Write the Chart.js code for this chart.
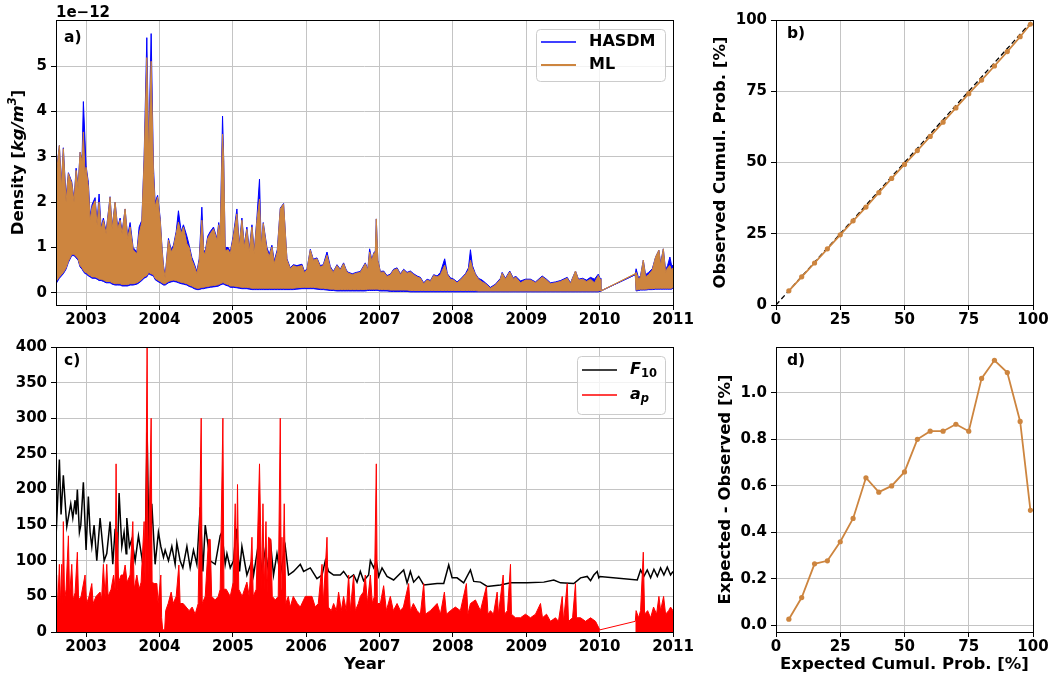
<!DOCTYPE html>
<html>
<head>
<meta charset="utf-8">
<script src="https://cdn.jsdelivr.net/npm/chart.js@4.4.0/dist/chart.umd.min.js"></script>
<style>
  html, body { margin: 0; padding: 0; background: #fff; }
  #wrap { position: relative; width: 1053px; height: 678px; overflow: hidden; background: #fff; }
  canvas { position: absolute; }
</style>
</head>
<body>
<div id="wrap">
  <canvas id="ca" width="700" height="330" style="left:0;top:0;width:700px;height:330px"></canvas>
  <canvas id="cb" width="353" height="330" style="left:700px;top:0;width:353px;height:330px"></canvas>
  <canvas id="cc" width="700" height="348" style="left:0;top:330px;width:700px;height:348px"></canvas>
  <canvas id="cd" width="353" height="348" style="left:700px;top:330px;width:353px;height:348px"></canvas>
</div>
<script>
// ---- a) 密度 (單位 1e-12 kg/m³)：上下包絡，十進位年 ----
const DENS_T = [
  2002.591, 2002.636, 2002.663, 2002.690, 2002.727, 2002.759, 2002.805, 2002.836, 2002.864, 2002.891,
  2002.918, 2002.945, 2002.963, 2002.986, 2003.000, 2003.031, 2003.055, 2003.082, 2003.123, 2003.150,
  2003.177, 2003.205, 2003.236, 2003.273, 2003.327, 2003.355, 2003.396, 2003.430, 2003.464, 2003.491,
  2003.532, 2003.566, 2003.600, 2003.641, 2003.692, 2003.723, 2003.760, 2003.791, 2003.828, 2003.853,
  2003.887, 2003.918, 2003.941, 2003.975, 2004.010, 2004.037, 2004.055, 2004.078, 2004.123, 2004.160,
  2004.191, 2004.228, 2004.259, 2004.296, 2004.327, 2004.374, 2004.405, 2004.442, 2004.473, 2004.510,
  2004.542, 2004.578, 2004.603, 2004.623, 2004.658, 2004.692, 2004.737, 2004.783, 2004.808, 2004.828,
  2004.860, 2004.876, 2004.896, 2004.937, 2004.965, 2005.005, 2005.056, 2005.087, 2005.124, 2005.156,
  2005.192, 2005.224, 2005.261, 2005.292, 2005.326, 2005.364, 2005.387, 2005.415, 2005.465, 2005.497,
  2005.533, 2005.565, 2005.606, 2005.647, 2005.692, 2005.738, 2005.783, 2005.824, 2005.874, 2005.943,
  2005.974, 2006.011, 2006.056, 2006.097, 2006.147, 2006.192, 2006.233, 2006.284, 2006.329, 2006.370,
  2006.420, 2006.465, 2006.510, 2006.547, 2006.578, 2006.629, 2006.683, 2006.738, 2006.806, 2006.840,
  2006.865, 2006.895, 2006.920, 2006.943, 2006.956, 2006.977, 2007.011, 2007.056, 2007.102, 2007.147,
  2007.192, 2007.239, 2007.284, 2007.329, 2007.375, 2007.420, 2007.465, 2007.512, 2007.557, 2007.602,
  2007.648, 2007.693, 2007.738, 2007.785, 2007.830, 2007.888, 2007.925, 2007.966, 2008.011, 2008.057,
  2008.102, 2008.171, 2008.212, 2008.239, 2008.266, 2008.307, 2008.348, 2008.398, 2008.443, 2008.512,
  2008.580, 2008.648, 2008.671, 2008.716, 2008.775, 2008.825, 2008.853, 2008.921, 2008.989, 2009.057,
  2009.126, 2009.217, 2009.276, 2009.330, 2009.398, 2009.467, 2009.558, 2009.603, 2009.671, 2009.712,
  2009.767, 2009.821, 2009.876, 2009.930, 2009.981, 2010.006, 2010.017, 2010.486, 2010.497, 2010.531,
  2010.558, 2010.595, 2010.626, 2010.667, 2010.718, 2010.763, 2010.808, 2010.831, 2010.868, 2010.899,
  2010.926, 2010.958, 2010.981, 2011.000,
];
const ML_HI = [
  2.55, 3.25, 2.30, 3.18, 2.00, 2.63, 2.41, 2.00, 2.70, 2.30,
  3.10, 2.90, 3.55, 2.60, 2.77, 2.33, 1.60, 1.89, 2.03, 1.50,
  2.00, 1.40, 1.60, 1.30, 2.11, 1.40, 2.00, 1.40, 1.60, 1.30,
  1.85, 1.20, 1.45, 0.95, 0.86, 1.30, 1.56, 2.90, 5.19, 3.00,
  5.11, 2.63, 1.90, 2.11, 1.60, 0.90, 0.55, 0.33, 1.16, 0.90,
  1.00, 1.30, 1.56, 1.30, 1.45, 1.08, 1.00, 0.72, 0.60, 0.42,
  0.70, 1.60, 0.90, 0.86, 1.20, 1.30, 1.41, 1.16, 1.50, 1.25,
  3.50, 2.90, 0.93, 0.95, 0.86, 1.20, 1.74, 1.00, 1.60, 1.00,
  1.40, 0.90, 1.45, 0.85, 1.55, 2.07, 1.00, 1.53, 0.94, 0.80,
  1.01, 0.64, 0.90, 1.85, 1.96, 0.72, 0.53, 0.60, 0.57, 0.60,
  0.45, 0.50, 0.94, 0.72, 0.75, 0.57, 0.60, 0.83, 0.55, 0.45,
  0.60, 0.50, 0.64, 0.48, 0.43, 0.40, 0.43, 0.45, 0.64, 0.50,
  0.90, 0.70, 0.86, 0.90, 1.63, 0.70, 0.45, 0.46, 0.36, 0.39,
  0.50, 0.53, 0.40, 0.50, 0.43, 0.46, 0.40, 0.35, 0.32, 0.20,
  0.28, 0.25, 0.38, 0.35, 0.40, 0.61, 0.40, 0.30, 0.28, 0.22,
  0.28, 0.40, 0.50, 0.72, 0.55, 0.40, 0.30, 0.24, 0.20, 0.10,
  0.17, 0.30, 0.43, 0.30, 0.46, 0.30, 0.35, 0.22, 0.28, 0.28,
  0.22, 0.35, 0.28, 0.20, 0.22, 0.25, 0.32, 0.20, 0.48, 0.28,
  0.30, 0.25, 0.30, 0.22, 0.38, 0.30, 0.04, 0.42, 0.45, 0.30,
  0.35, 0.72, 0.35, 0.40, 0.50, 0.79, 0.94, 0.60, 0.97, 0.45,
  0.55, 0.60, 0.50, 0.55,
];
const HASDM_HI = [
  2.60, 3.25, 2.40, 3.20, 2.10, 2.65, 2.45, 2.05, 2.75, 2.35,
  3.10, 2.95, 4.22, 3.35, 2.80, 2.44, 1.70, 1.95, 2.10, 1.55,
  2.18, 1.45, 1.65, 1.35, 2.12, 1.45, 2.00, 1.45, 1.65, 1.35,
  1.85, 1.25, 1.55, 1.00, 0.90, 1.45, 1.60, 3.00, 5.63, 3.10,
  5.72, 2.80, 2.00, 2.15, 1.65, 0.95, 0.60, 0.36, 1.20, 0.95,
  1.05, 1.35, 1.81, 1.35, 1.50, 1.25, 1.05, 0.78, 0.65, 0.47,
  0.75, 1.89, 0.95, 0.90, 1.25, 1.35, 1.45, 1.20, 1.55, 1.30,
  3.90, 2.95, 1.00, 1.00, 0.90, 1.25, 1.85, 1.05, 1.65, 1.05,
  1.45, 0.95, 1.50, 0.90, 1.60, 2.51, 1.05, 1.55, 1.00, 0.85,
  1.05, 0.70, 0.95, 1.87, 1.97, 0.75, 0.55, 0.62, 0.60, 0.63,
  0.48, 0.52, 0.96, 0.74, 0.77, 0.60, 0.62, 0.90, 0.58, 0.47,
  0.62, 0.52, 0.66, 0.50, 0.45, 0.42, 0.45, 0.47, 0.66, 0.52,
  0.97, 0.72, 0.88, 0.92, 1.63, 0.72, 0.47, 0.48, 0.38, 0.41,
  0.52, 0.55, 0.42, 0.52, 0.45, 0.48, 0.42, 0.37, 0.34, 0.22,
  0.30, 0.27, 0.40, 0.37, 0.45, 0.75, 0.42, 0.33, 0.30, 0.24,
  0.30, 0.42, 0.55, 0.95, 0.60, 0.42, 0.32, 0.28, 0.22, 0.12,
  0.19, 0.32, 0.45, 0.32, 0.48, 0.32, 0.37, 0.26, 0.30, 0.30,
  0.24, 0.37, 0.30, 0.22, 0.24, 0.27, 0.34, 0.22, 0.48, 0.30,
  0.32, 0.28, 0.34, 0.30, 0.41, 0.32, 0.04, 0.40, 0.53, 0.32,
  0.38, 0.72, 0.40, 0.45, 0.53, 0.79, 0.94, 0.65, 0.97, 0.50,
  0.60, 0.79, 0.60, 0.60,
];
const ML_LO = [
  0.25, 0.35, 0.40, 0.45, 0.55, 0.70, 0.85, 0.85, 0.80, 0.75,
  0.60, 0.55, 0.50, 0.45, 0.45, 0.40, 0.38, 0.35, 0.35, 0.33,
  0.30, 0.30, 0.28, 0.25, 0.25, 0.22, 0.20, 0.20, 0.20, 0.18,
  0.18, 0.18, 0.20, 0.20, 0.22, 0.25, 0.30, 0.35, 0.38, 0.45,
  0.42, 0.40, 0.32, 0.28, 0.25, 0.22, 0.20, 0.20, 0.25, 0.27,
  0.28, 0.27, 0.25, 0.23, 0.22, 0.20, 0.17, 0.15, 0.12, 0.10,
  0.10, 0.12, 0.12, 0.13, 0.14, 0.15, 0.16, 0.17, 0.18, 0.20,
  0.22, 0.22, 0.20, 0.18, 0.15, 0.15, 0.14, 0.13, 0.12, 0.12,
  0.12, 0.11, 0.10, 0.10, 0.10, 0.10, 0.10, 0.10, 0.10, 0.10,
  0.10, 0.10, 0.10, 0.10, 0.10, 0.10, 0.10, 0.10, 0.11, 0.12,
  0.12, 0.12, 0.12, 0.12, 0.11, 0.10, 0.10, 0.09, 0.08, 0.08,
  0.07, 0.07, 0.07, 0.07, 0.07, 0.07, 0.07, 0.07, 0.07, 0.08,
  0.08, 0.08, 0.08, 0.08, 0.08, 0.08, 0.07, 0.07, 0.07, 0.06,
  0.06, 0.06, 0.06, 0.06, 0.06, 0.05, 0.05, 0.05, 0.05, 0.05,
  0.05, 0.05, 0.05, 0.05, 0.05, 0.05, 0.05, 0.05, 0.05, 0.05,
  0.05, 0.05, 0.05, 0.05, 0.05, 0.05, 0.04, 0.04, 0.04, 0.04,
  0.04, 0.04, 0.04, 0.04, 0.04, 0.04, 0.04, 0.04, 0.04, 0.04,
  0.04, 0.04, 0.04, 0.04, 0.04, 0.04, 0.04, 0.04, 0.04, 0.04,
  0.04, 0.04, 0.04, 0.04, 0.04, 0.05, 0.04, 0.42, 0.06, 0.07,
  0.08, 0.08, 0.08, 0.09, 0.09, 0.10, 0.10, 0.10, 0.10, 0.10,
  0.10, 0.10, 0.10, 0.12,
];
const HASDM_LO = [
  0.20, 0.32, 0.37, 0.42, 0.52, 0.67, 0.82, 0.82, 0.77, 0.72,
  0.57, 0.52, 0.47, 0.42, 0.42, 0.37, 0.35, 0.32, 0.32, 0.30,
  0.27, 0.27, 0.25, 0.22, 0.22, 0.19, 0.17, 0.17, 0.17, 0.15,
  0.15, 0.15, 0.17, 0.17, 0.19, 0.22, 0.27, 0.32, 0.35, 0.42,
  0.39, 0.37, 0.29, 0.25, 0.22, 0.19, 0.17, 0.17, 0.22, 0.24,
  0.25, 0.24, 0.22, 0.20, 0.19, 0.17, 0.14, 0.12, 0.09, 0.07,
  0.07, 0.09, 0.09, 0.10, 0.11, 0.12, 0.13, 0.14, 0.15, 0.17,
  0.19, 0.19, 0.17, 0.15, 0.12, 0.12, 0.11, 0.10, 0.09, 0.09,
  0.09, 0.08, 0.07, 0.07, 0.07, 0.07, 0.07, 0.07, 0.07, 0.07,
  0.07, 0.07, 0.07, 0.07, 0.07, 0.07, 0.07, 0.07, 0.08, 0.09,
  0.09, 0.09, 0.09, 0.09, 0.08, 0.07, 0.07, 0.06, 0.05, 0.05,
  0.04, 0.04, 0.04, 0.04, 0.04, 0.04, 0.04, 0.04, 0.04, 0.05,
  0.05, 0.05, 0.05, 0.05, 0.05, 0.05, 0.04, 0.04, 0.04, 0.03,
  0.03, 0.03, 0.03, 0.03, 0.03, 0.02, 0.02, 0.02, 0.02, 0.02,
  0.02, 0.02, 0.02, 0.02, 0.02, 0.02, 0.02, 0.02, 0.02, 0.02,
  0.02, 0.02, 0.02, 0.02, 0.02, 0.02, 0.02, 0.02, 0.02, 0.02,
  0.02, 0.02, 0.02, 0.02, 0.02, 0.02, 0.02, 0.02, 0.02, 0.02,
  0.02, 0.02, 0.02, 0.02, 0.02, 0.02, 0.02, 0.02, 0.02, 0.02,
  0.02, 0.02, 0.02, 0.02, 0.02, 0.03, 0.04, 0.40, 0.04, 0.05,
  0.06, 0.06, 0.06, 0.07, 0.07, 0.08, 0.08, 0.08, 0.08, 0.08,
  0.08, 0.08, 0.08, 0.10,
];

// ---- c) F10 與 ap ----
const F10_T = [
  2002.591, 2002.636, 2002.659, 2002.690, 2002.737, 2002.791, 2002.819, 2002.850, 2002.864, 2002.881,
  2002.909, 2002.928, 2002.963, 2003.000, 2003.031, 2003.055, 2003.078, 2003.109, 2003.146, 2003.191,
  2003.246, 2003.282, 2003.327, 2003.364, 2003.396, 2003.427, 2003.450, 2003.487, 2003.518, 2003.546,
  2003.555, 2003.591, 2003.623, 2003.669, 2003.714, 2003.782, 2003.809, 2003.832, 2003.859, 2003.873,
  2003.896, 2003.941, 2003.986, 2004.019, 2004.055, 2004.078, 2004.123, 2004.169, 2004.214, 2004.237,
  2004.282, 2004.319, 2004.374, 2004.419, 2004.464, 2004.510, 2004.555, 2004.592, 2004.624, 2004.692,
  2004.760, 2004.828, 2004.851, 2004.896, 2004.920, 2004.965, 2005.010, 2005.047, 2005.092, 2005.124,
  2005.192, 2005.261, 2005.283, 2005.351, 2005.397, 2005.442, 2005.487, 2005.510, 2005.555, 2005.602,
  2005.647, 2005.715, 2005.760, 2005.828, 2005.920, 2005.965, 2006.056, 2006.147, 2006.216, 2006.261,
  2006.306, 2006.374, 2006.465, 2006.510, 2006.579, 2006.647, 2006.693, 2006.738, 2006.783, 2006.851,
  2006.875, 2006.920, 2006.956, 2006.988, 2007.034, 2007.102, 2007.192, 2007.329, 2007.375, 2007.420,
  2007.465, 2007.534, 2007.602, 2007.693, 2007.785, 2007.875, 2007.943, 2007.989, 2008.057, 2008.147,
  2008.239, 2008.284, 2008.375, 2008.467, 2008.648, 2008.785, 2009.012, 2009.239, 2009.375, 2009.467,
  2009.648, 2009.740, 2009.831, 2009.876, 2009.921, 2009.967, 2009.989, 2010.003, 2010.513, 2010.558,
  2010.603, 2010.649, 2010.695, 2010.740, 2010.786, 2010.831, 2010.876, 2010.922, 2010.967, 2011.000,
];
const F10 = [
  134, 242, 165, 220, 148, 180, 160, 185, 165, 200,
  140, 150, 210, 115, 190, 140, 120, 150, 100, 160,
  100, 110, 155, 95, 145, 100, 195, 120, 140, 110,
  160, 120, 130, 100, 135, 90, 135, 280, 110, 90,
  180, 95, 140, 120, 105, 115, 100, 120, 95, 125,
  100, 90, 120, 90, 115, 95, 175, 85, 150, 100,
  95, 135, 140, 95, 110, 90, 100, 145, 85, 120,
  80, 100, 80, 125, 85, 115, 85, 130, 80, 110,
  80, 120, 80, 85, 95, 85, 90, 75, 80, 100,
  85, 80, 80, 85, 75, 80, 70, 85, 72, 80,
  100, 90, 100, 78, 90, 78, 73, 87, 69, 85,
  70, 78, 66, 67, 68, 68, 94, 76, 76, 69,
  87, 71, 70, 64, 66, 69, 69, 70, 73, 69,
  68, 76, 78, 72, 80, 85, 76, 78, 73, 87,
  78, 87, 76, 88, 78, 90, 80, 91, 80, 85,
];
const AP_T = [
  2002.591, 2002.598, 2002.611, 2002.636, 2002.652, 2002.668, 2002.679, 2002.690, 2002.707, 2002.727,
  2002.759, 2002.775, 2002.805, 2002.823, 2002.850, 2002.881, 2002.898, 2002.932, 2002.986, 2003.007,
  2003.041, 2003.078, 2003.096, 2003.136, 2003.191, 2003.211, 2003.236, 2003.259, 2003.282, 2003.300,
  2003.341, 2003.375, 2003.396, 2003.409, 2003.423, 2003.427, 2003.443, 2003.478, 2003.509, 2003.532,
  2003.559, 2003.600, 2003.637, 2003.655, 2003.692, 2003.723, 2003.750, 2003.791, 2003.805, 2003.832,
  2003.846, 2003.887, 2003.900, 2003.928, 2003.965, 2003.982, 2004.019, 2004.030, 2004.044, 2004.071,
  2004.085, 2004.119, 2004.160, 2004.187, 2004.228, 2004.265, 2004.282, 2004.323, 2004.364, 2004.405,
  2004.446, 2004.487, 2004.528, 2004.555, 2004.569, 2004.583, 2004.624, 2004.669, 2004.692, 2004.712,
  2004.760, 2004.801, 2004.828, 2004.865, 2004.879, 2004.910, 2004.965, 2005.006, 2005.033, 2005.047,
  2005.064, 2005.081, 2005.128, 2005.192, 2005.224, 2005.261, 2005.278, 2005.319, 2005.364, 2005.394,
  2005.411, 2005.428, 2005.452, 2005.469, 2005.487, 2005.520, 2005.538, 2005.579, 2005.619, 2005.647,
  2005.660, 2005.670, 2005.681, 2005.701, 2005.722, 2005.756, 2005.783, 2005.824, 2005.879, 2005.920,
  2005.988, 2006.079, 2006.124, 2006.165, 2006.216, 2006.233, 2006.284, 2006.302, 2006.343, 2006.374,
  2006.411, 2006.442, 2006.479, 2006.510, 2006.547, 2006.579, 2006.602, 2006.647, 2006.670, 2006.711,
  2006.738, 2006.779, 2006.806, 2006.834, 2006.875, 2006.902, 2006.929, 2006.956, 2006.970, 2007.011,
  2007.056, 2007.093, 2007.147, 2007.188, 2007.239, 2007.284, 2007.325, 2007.397, 2007.420, 2007.461,
  2007.512, 2007.557, 2007.602, 2007.625, 2007.693, 2007.785, 2007.830, 2007.884, 2007.912, 2007.966,
  2008.034, 2008.102, 2008.184, 2008.205, 2008.239, 2008.307, 2008.375, 2008.457, 2008.478, 2008.512,
  2008.553, 2008.603, 2008.621, 2008.685, 2008.703, 2008.744, 2008.785, 2008.798, 2008.853, 2008.921,
  2008.989, 2009.057, 2009.126, 2009.194, 2009.221, 2009.276, 2009.330, 2009.398, 2009.439, 2009.490,
  2009.508, 2009.558, 2009.576, 2009.631, 2009.671, 2009.685, 2009.740, 2009.808, 2009.876, 2009.944,
  2010.003, 2010.486, 2010.497, 2010.531, 2010.558, 2010.595, 2010.613, 2010.654, 2010.695, 2010.735,
  2010.776, 2010.808, 2010.831, 2010.872, 2010.899, 2010.940, 2010.967, 2011.000,
];
const AP = [
  40, 80, 30, 95, 40, 95, 40, 155, 45, 60,
  135, 50, 95, 45, 55, 112, 45, 50, 80, 40,
  50, 68, 40, 50, 56, 45, 95, 50, 95, 50,
  60, 80, 60, 236, 60, 140, 70, 80, 80, 94,
  70, 80, 155, 60, 80, 60, 70, 155, 70, 400,
  80, 300, 70, 68, 68, 40, 80, 20, 3, 3,
  30, 40, 56, 40, 50, 94, 40, 40, 35, 30,
  35, 25, 40, 207, 300, 40, 50, 130, 130, 50,
  45, 50, 60, 300, 60, 60, 50, 70, 180, 60,
  207, 60, 50, 70, 50, 133, 50, 60, 236, 60,
  180, 60, 155, 55, 133, 130, 50, 45, 50, 300,
  60, 133, 60, 180, 40, 50, 35, 50, 40, 35,
  50, 50, 35, 40, 95, 40, 133, 35, 30, 40,
  30, 56, 30, 50, 30, 80, 30, 80, 30, 40,
  50, 56, 80, 40, 80, 40, 50, 236, 40, 40,
  65, 30, 50, 30, 40, 30, 35, 68, 30, 40,
  30, 25, 68, 25, 30, 40, 25, 56, 25, 30,
  35, 30, 68, 25, 40, 45, 30, 64, 25, 30,
  25, 56, 25, 80, 25, 30, 95, 25, 20, 20,
  25, 20, 25, 40, 20, 25, 15, 20, 15, 50,
  15, 68, 15, 20, 68, 20, 20, 15, 20, 15,
  3, 15, 30, 20, 30, 112, 25, 30, 20, 35,
  25, 50, 30, 50, 25, 30, 35, 30,
];

// ---- b) d) 累積機率 [%] ----
const PROB_EXP = [5, 10, 15, 20, 25, 30, 35, 40, 45, 50, 55, 60, 65, 70, 75, 80, 85, 90, 95, 99];
const PROB_OBS = [4.973, 9.88, 14.735, 19.722, 24.64, 29.54, 34.365, 39.427, 44.4, 49.34,
  54.2, 59.165, 64.165, 69.135, 74.165, 78.938, 83.86, 88.913, 94.123, 98.505];
const PROB_DIFF = [0.027, 0.12, 0.265, 0.278, 0.36, 0.46, 0.635, 0.573, 0.60, 0.66,
  0.80, 0.835, 0.835, 0.865, 0.835, 1.062, 1.14, 1.087, 0.877, 0.495];
const IDEAL = [0, 100];

// ---- 刻度 ----
const YEAR_TICKS = [2003, 2004, 2005, 2006, 2007, 2008, 2009, 2010, 2011];
const DENS_TICKS = [0, 1, 2, 3, 4, 5];
const SOLAR_TICKS = [0, 50, 100, 150, 200, 250, 300, 350, 400];
const PCT_TICKS = [0, 25, 50, 75, 100];
const DIFF_TICKS = [0, 0.2, 0.4, 0.6, 0.8, 1.0];

const FONT = "'DejaVu Sans', sans-serif";
const GRID = '#c4c4c4';
const PERU = '#cd853f';

Chart.defaults.font.family = FONT;
Chart.defaults.font.size = 15;
Chart.defaults.font.weight = 'bold';
Chart.defaults.color = '#000';

const pts = (xs, ys) => xs.map((x, i) => ({ x, y: ys[i] }));

function axis(min, max, ticks, size, fmt, title) {
  return {
    type: 'linear', min, max,
    afterBuildTicks: (s) => { s.ticks = ticks.map((v) => ({ value: v })); },
    afterFit: (s) => { if (s.isHorizontal()) s.height = size; else s.width = size; },
    grid: { color: GRID, lineWidth: 1, tickLength: 5, tickColor: '#000', tickWidth: 1 },
    border: { display: false },
    ticks: {
      autoSkip: false, maxRotation: 0, callback: fmt, font: { size: 15, weight: 'bold' },
      padding: size < 60 && size !== 56 ? 1 : 4,
    },
    title: title
      ? { display: true, text: title.text, padding: title.padding, font: { size: 16.5, weight: 'bold' } }
      : { display: false },
  };
}

// 外框 + 面板標記 + 額外文字
function decor(opts) {
  return {
    id: 'decor',
    afterDatasetsDraw(chart) {
      const { ctx, chartArea: a } = chart;
      ctx.save();
      ctx.strokeStyle = '#000';
      ctx.lineWidth = 1;
      ctx.strokeRect(Math.round(a.left) + 0.5, Math.round(a.top) + 0.5,
        Math.round(a.right - a.left), Math.round(a.bottom - a.top));
      ctx.fillStyle = '#000';
      ctx.font = `bold 15.5px ${FONT}`;
      ctx.textBaseline = 'alphabetic';
      ctx.fillText(opts.label, opts.lx, opts.ly);
      if (opts.extra) opts.extra(ctx, a);
      ctx.restore();
    },
  };
}

function richRun(ctx, x, y, parts) {
  let cx = x;
  for (const p of parts) {
    ctx.font = p.font;
    ctx.fillText(p.t, cx, y + (p.dy || 0));
    cx += ctx.measureText(p.t).width;
  }
  return cx - x;
}

function legendBox(ctx, box, items) {
  ctx.save();
  ctx.beginPath();
  ctx.roundRect(box.x + 0.5, box.y + 0.5, box.w, box.h, 4);
  ctx.fillStyle = 'rgba(255,255,255,0.8)';
  ctx.fill();
  ctx.strokeStyle = '#cccccc';
  ctx.lineWidth = 1;
  ctx.stroke();
  items.forEach((it) => {
    ctx.beginPath();
    ctx.strokeStyle = it.color;
    ctx.lineWidth = it.width;
    ctx.moveTo(box.x + 5, it.y);
    ctx.lineTo(box.x + 40, it.y);
    ctx.stroke();
    ctx.fillStyle = '#000';
    ctx.textBaseline = 'middle';
    richRun(ctx, box.x + box.tx, it.y, it.parts);
  });
  ctx.restore();
}

const base = {
  responsive: false,
  animation: false,
  events: [],
  plugins: { legend: { display: false }, tooltip: { enabled: false } },
};

// ---- a) ----
new Chart(document.getElementById('ca'), {
  type: 'line',
  data: {
    datasets: [
      { data: pts(DENS_T, HASDM_HI), borderColor: 'blue', backgroundColor: 'blue', fill: '+1', order: 2 },
      { data: pts(DENS_T, HASDM_LO), borderColor: 'blue', fill: false, order: 2 },
      { data: pts(DENS_T, ML_HI), borderColor: PERU, backgroundColor: PERU, fill: '+1', order: 1 },
      { data: pts(DENS_T, ML_LO), borderColor: PERU, fill: false, order: 1 },
    ],
  },
  options: {
    ...base,
    layout: { padding: { top: 20, right: 27, left: 0, bottom: 0 } },
    elements: { point: { radius: 0 }, line: { borderWidth: 1, tension: 0 } },
    scales: {
      x: axis(2002.59, 2011.0, YEAR_TICKS, 25, (v) => String(v)),
      y: axis(-0.27, 6.02, DENS_TICKS, 56, (v) => String(v)),
    },
  },
  plugins: [decor({
    label: 'a)', lx: 64, ly: 42,
    extra(ctx, a) {
      ctx.font = `bold 15px ${FONT}`;
      ctx.fillText('1e\u221212', a.left, 17);
      // y 軸標題 Density [kg/m³]
      ctx.save();
      ctx.translate(19, (a.top + a.bottom) / 2);
      ctx.rotate(-Math.PI / 2);
      ctx.textBaseline = 'middle';
      const parts = [
        { t: 'Density [', font: `bold 16.5px ${FONT}` },
        { t: 'kg/m', font: `italic bold 16.5px ${FONT}` },
        { t: '3', font: `italic bold 11.5px ${FONT}`, dy: -6 },
        { t: ']', font: `bold 16.5px ${FONT}` },
      ];
      let w = 0;
      parts.forEach((p) => { ctx.font = p.font; w += ctx.measureText(p.t).width; });
      richRun(ctx, -w / 2, 0, parts);
      ctx.restore();
      legendBox(ctx, { x: 536, y: 29, w: 129, h: 52, tx: 53 }, [
        { y: 42, color: 'blue', width: 1.5, parts: [{ t: 'HASDM', font: `bold 16px ${FONT}` }] },
        { y: 65, color: PERU, width: 2, parts: [{ t: 'ML', font: `bold 16px ${FONT}` }] },
      ]);
    },
  })],
});

// ---- b) ----
new Chart(document.getElementById('cb'), {
  type: 'line',
  data: {
    datasets: [
      { data: pts(PROB_EXP, PROB_OBS), borderColor: PERU, backgroundColor: PERU, borderWidth: 1.8,
        pointRadius: 2.6, pointBorderWidth: 0, order: 1 },
      { data: pts(IDEAL, IDEAL), borderColor: '#000', borderWidth: 1.3, borderDash: [5, 3],
        pointRadius: 0, order: 2 },
    ],
  },
  options: {
    ...base,
    layout: { padding: { top: 20, right: 20, left: 0, bottom: 0 } },
    elements: { line: { tension: 0 } },
    scales: {
      x: axis(0, 100, PCT_TICKS, 25, (v) => String(v)),
      y: axis(0, 100, PCT_TICKS, 76, (v) => String(v),
        { text: 'Observed Cumul. Prob. [%]', padding: { top: 11, bottom: 0 } }),
    },
  },
  plugins: [decor({ label: 'b)', lx: 87, ly: 37.5 })],
});

// ---- c) ----
new Chart(document.getElementById('cc'), {
  type: 'line',
  data: {
    datasets: [
      { data: pts(AP_T, AP), borderColor: 'red', backgroundColor: 'red', borderWidth: 1, fill: 'origin', order: 1,
        segment: { backgroundColor: (c) => (c.p0.parsed.x < 2010.1 && c.p1.parsed.x > 2010.4 ? 'rgba(0,0,0,0)' : undefined) } },
      { data: pts(F10_T, F10), borderColor: '#000', borderWidth: 1.5, fill: false, order: 2 },
    ],
  },
  options: {
    ...base,
    layout: { padding: { top: 17, right: 27, left: 0, bottom: 0 } },
    elements: { point: { radius: 0 }, line: { tension: 0 } },
    scales: {
      x: axis(2002.59, 2011.0, YEAR_TICKS, 46, (v) => String(v),
        { text: 'Year', padding: { top: 0, bottom: 3 } }),
      y: axis(0, 400, SOLAR_TICKS, 56, (v) => String(v)),
    },
  },
  plugins: [decor({
    label: 'c)', lx: 64, ly: 35,
    extra(ctx) {
      legendBox(ctx, { x: 577, y: 26, w: 88, h: 58, tx: 53 }, [
        { y: 40, color: '#000', width: 1.5, parts: [
          { t: 'F', font: `italic bold 16px ${FONT}` },
          { t: '10', font: `bold 11.5px ${FONT}`, dy: 4 },
        ] },
        { y: 65, color: 'red', width: 1.5, parts: [
          { t: 'a', font: `italic bold 16px ${FONT}` },
          { t: 'p', font: `italic bold 11.5px ${FONT}`, dy: 4 },
        ] },
      ]);
    },
  })],
});

// ---- d) ----
new Chart(document.getElementById('cd'), {
  type: 'line',
  data: {
    datasets: [
      { data: pts(PROB_EXP, PROB_DIFF), borderColor: PERU, backgroundColor: PERU, borderWidth: 1.8,
        pointRadius: 2.6, pointBorderWidth: 0 },
    ],
  },
  options: {
    ...base,
    layout: { padding: { top: 17, right: 20, left: 0, bottom: 0 } },
    elements: { line: { tension: 0 } },
    scales: {
      x: axis(0, 100, PCT_TICKS, 46, (v) => String(v),
        { text: 'Expected Cumul. Prob. [%]', padding: { top: 0, bottom: 3 } }),
      y: axis(-0.028, 1.197, DIFF_TICKS, 76, (v) => v.toFixed(1),
        { text: 'Expected - Observed [%]', padding: { top: 16, bottom: 0 } }),
    },
  },
  plugins: [decor({ label: 'd)', lx: 87, ly: 35 })],
});
</script>
</body>
</html>
